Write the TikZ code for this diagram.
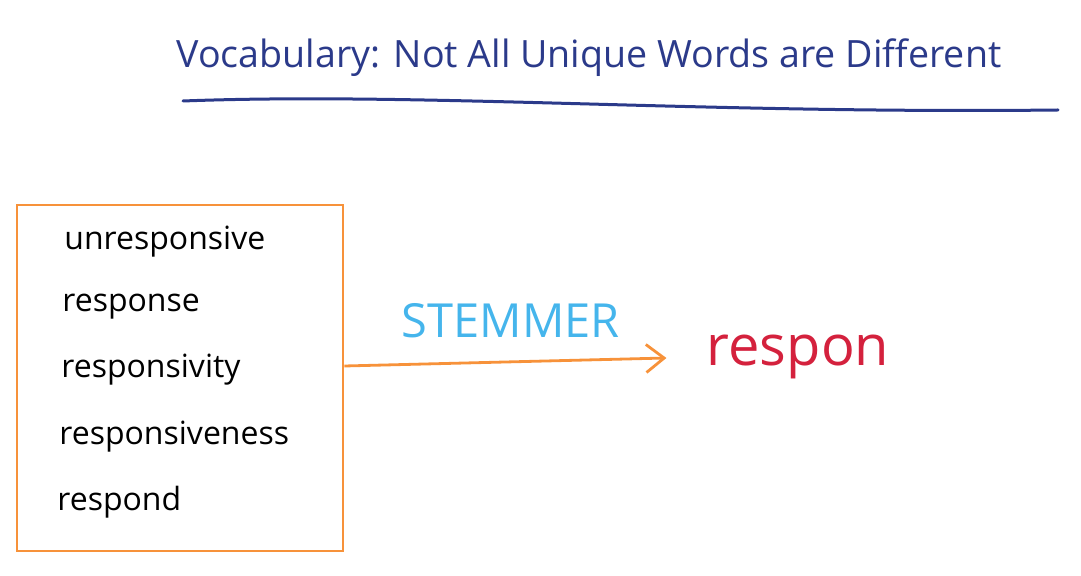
\documentclass[tikz,border=0pt]{standalone}
\usepackage{fontspec}
\setmainfont{Open Sans}
\usetikzlibrary{arrows.meta}

\definecolor{inkblue}{HTML}{2B3A8A}
\definecolor{penorange}{HTML}{F7923A}
\definecolor{skyblue}{HTML}{45B5EC}
\definecolor{stemred}{HTML}{D4213D}

\tikzset{
  heading/.style={font=\fontsize{18.8}{22}\selectfont, text=inkblue},
  wordbox/.style={draw=penorange, line width=1.4pt, minimum width=163pt, minimum height=173pt},
  word/.style={anchor=base west, inner sep=0pt, font=\fontsize{16}{19}\selectfont},
  stemarrow/.style={draw=penorange, line width=1.4pt, -{Straight Barb[length=9pt, width=14pt]}},
}

\begin{document}
\begin{tikzpicture}[x=0.5pt,y=-0.5pt]
    \useasboundingbox (0,0) rectangle (1081,576);
    %--- title and underline ---
    \node[heading] (title) at (589,58) {Vocabulary: Not All Unique Words are Different};
    \draw[inkblue, line width=1.5pt, line cap=round] (183,101) .. controls (420,92) and (700,114) .. (1058,110);
    %--- word list ---
    \node[wordbox] (box) at (180,378) {};
    \node[word] (unresp) at (64,250) {unresponsive};
    \node[word] (resp) at (62,312) {response};
    \node[word] (respvity) at (61,378) {responsivity};
    \node[word] (respness) at (59,445) {responsiveness};
    \node[word] (respd) at (57,510) {respond};
    %--- stem ---
    \node[font=\fontsize{28}{32}\selectfont, text=stemred, inner sep=0pt] (respon) at (798,357) {respon};
    \draw[stemarrow, shorten >=20pt] ([yshift=6pt]box.east) -- (respon.west)
        node[pos=0.46, above=8pt, font=\fontsize{23.5}{27}\selectfont, text=skyblue] (stemmer) {STEMMER};
\end{tikzpicture}
\end{document}
